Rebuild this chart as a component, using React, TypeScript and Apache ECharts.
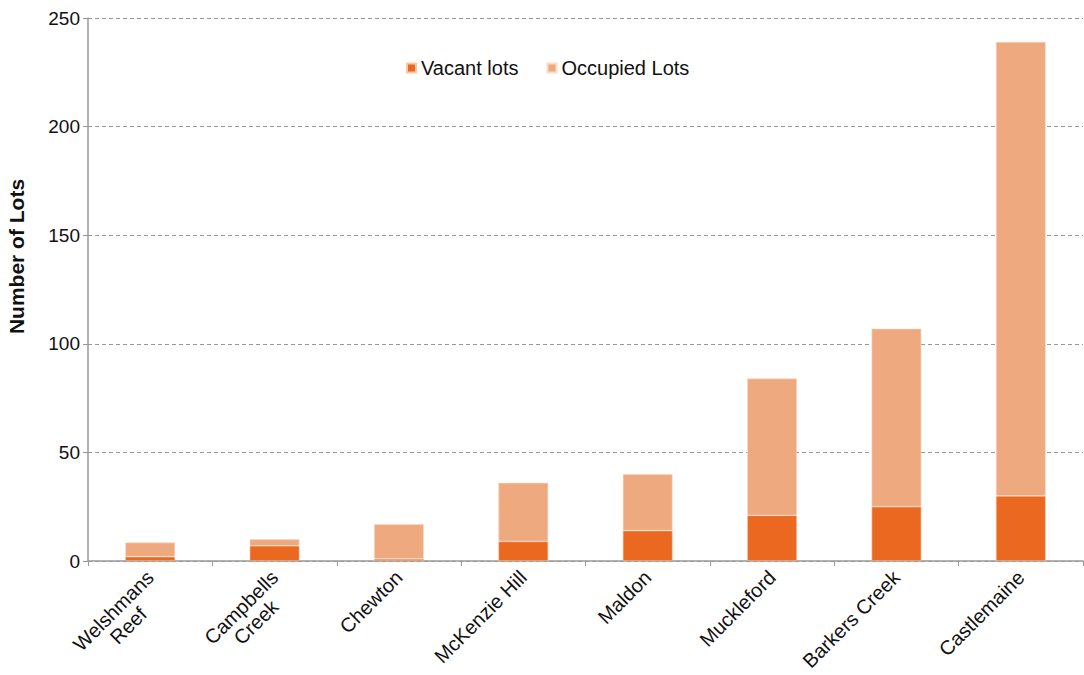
import React, { useEffect, useRef } from "react";
import * as echarts from "echarts";

const categories = [
  "Welshmans\nReef",
  "Campbells\nCreek",
  "Chewton",
  "McKenzie Hill",
  "Maldon",
  "Muckleford",
  "Barkers Creek",
  "Castlemaine",
];
const vacantLots = [2, 7, 1, 9, 14, 21, 25, 30];
const occupiedLots = [6.5, 3, 16, 27, 26, 63, 82, 209];
const seriesNames = ["Vacant lots", "Occupied Lots"];

export default function App() {
  const ref = useRef<HTMLDivElement>(null);
  useEffect(() => {
    const chart = echarts.init(ref.current!, null, { renderer: "svg" });
    const font = "Liberation Sans, Arial, sans-serif";
    chart.setOption({
      animation: false,
      textStyle: { fontFamily: font },
      legend: {
        data: seriesNames,
        top: 53,
        left: 401,
        itemWidth: 9,
        itemHeight: 9,
        itemGap: 28,
        icon: "rect",
        textStyle: { fontSize: 20, color: "#111", fontFamily: font },
      },
      grid: {
        left: 88,
        right: 1,
        top: 18,
        bottom: 114,
        containLabel: false,
        outerBoundsMode: "none",
      },
      xAxis: {
        type: "category",
        data: categories,
        axisLine: { lineStyle: { color: "#999", width: 1.5 } },
        axisTick: { show: true, length: 5, lineStyle: { color: "#999" } },
        axisLabel: {
          rotate: 45,
          interval: 0,
          fontSize: 20,
          color: "#111",
          fontFamily: font,
          margin: 13,
          formatter: (v: string) => {
            const lines = v.split("\n");
            const parts = lines.map((s) => `{c|${s}}`);
            if (lines.length > 1) parts.unshift("{c| }");
            return parts.join("\n");
          },
          rich: {
            c: { fontSize: 20, color: "#111", fontFamily: font, align: "center", lineHeight: 21 },
          },
        },
      },
      yAxis: {
        type: "value",
        min: 0,
        max: 250,
        interval: 50,
        name: "Number of Lots",
        nameLocation: "middle",
        nameGap: 61,
        nameTextStyle: {
          fontSize: 21,
          fontWeight: "bold",
          color: "#111",
          fontFamily: font,
          padding: [0, 0, 0, 66],
        },
        axisLine: { show: true, lineStyle: { color: "#999", width: 1.5 } },
        axisTick: { show: true, length: 5, lineStyle: { color: "#999" } },
        axisLabel: { fontSize: 19, color: "#111", fontFamily: font, margin: 8 },
        splitLine: { lineStyle: { color: "#999", type: [4, 3], width: 1 } },
      },
      series: [
        {
          name: seriesNames[0],
          type: "bar",
          stack: "total",
          data: vacantLots,
          barWidth: "40%",
          itemStyle: { color: "#EB6820", borderColor: "#f6c7a8", borderWidth: 0.6 },
        },
        {
          name: seriesNames[1],
          type: "bar",
          stack: "total",
          data: occupiedLots,
          barWidth: "40%",
          itemStyle: { color: "#EFA97E", borderColor: "#f9dcc9", borderWidth: 0.6 },
        },
      ],
    });
    return () => chart.dispose();
  }, []);
  return (
    <div
      ref={ref}
      style={{ position: "fixed", left: 0, top: 0, width: 1084, height: 675, background: "#fff" }}
    />
  );
}
